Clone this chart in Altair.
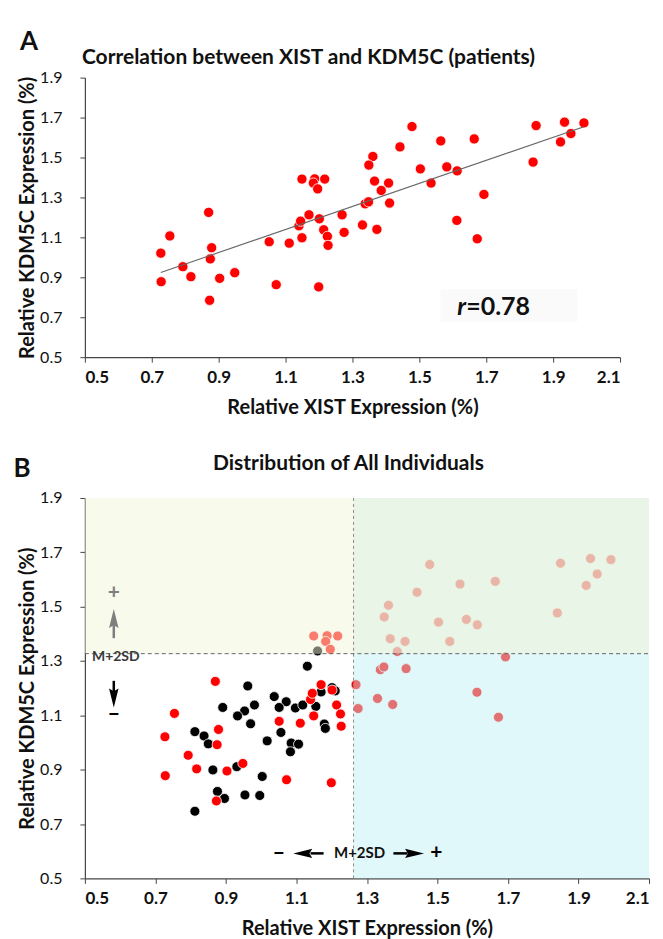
import altair as alt
import pandas as pd

FONT = "Lato"

# ---------------- data ----------------
x_ticks = [0.5, 0.7, 0.9, 1.1, 1.3, 1.5, 1.7, 1.9, 2.1]
y_ticks = [0.5, 0.7, 0.9, 1.1, 1.3, 1.5, 1.7, 1.9]

# patients (relative XIST, relative KDM5C)
pat_x = [0.727, 0.754, 0.728, 0.793, 0.817, 0.870, 0.879, 0.875, 0.903, 0.873,
         0.948, 1.051, 1.072, 1.111, 1.149, 1.140, 1.145, 1.170, 1.149, 1.187,
         1.183, 1.196, 1.217, 1.201, 1.214, 1.225, 1.227, 1.199, 1.269, 1.275,
         1.330, 1.373, 1.338, 1.348, 1.361, 1.349, 1.366, 1.386, 1.408, 1.411,
         1.478, 1.442, 1.503, 1.535, 1.564, 1.582, 1.613, 1.612, 1.664, 1.693,
         1.673, 1.849, 1.840, 1.934, 1.953, 1.922, 1.992]
pat_y = [1.021, 1.107, 0.878, 0.953, 0.903, 1.225, 1.048, 0.992, 0.895, 0.785,
         0.923, 1.078, 0.863, 1.071, 1.098, 1.158, 1.181, 1.213, 1.392, 1.393,
         1.372, 1.343, 1.392, 1.193, 1.138, 1.105, 1.060, 0.852, 1.213, 1.125,
         1.162, 1.140, 1.268, 1.278, 1.505, 1.462, 1.382, 1.335, 1.372, 1.272,
         1.655, 1.553, 1.443, 1.372, 1.583, 1.453, 1.433, 1.185, 1.593, 1.315,
         1.093, 1.660, 1.477, 1.677, 1.620, 1.578, 1.673]

# controls (panel B, black)
ctrl_x = [1.160, 1.131, 0.962, 0.891, 0.981, 0.953, 0.933, 0.970, 1.037, 1.071,
          1.051, 1.097, 1.118, 1.155, 1.170, 1.201, 1.210, 0.812, 0.838, 0.850,
          1.056, 1.017, 1.085, 1.106, 1.083, 1.179, 1.182, 0.863, 0.931, 1.003,
          0.876, 0.896, 0.954, 0.996, 0.812]
ctrl_y = [1.337, 1.281, 1.208, 1.129, 1.138, 1.116, 1.098, 1.069, 1.169, 1.150,
          1.129, 1.127, 1.138, 1.133, 1.186, 1.202, 1.190, 1.040, 1.024, 0.995,
          1.037, 1.006, 0.998, 0.994, 0.966, 1.068, 1.052, 0.899, 0.911, 0.875,
          0.820, 0.794, 0.807, 0.805, 0.747]

r_value = "=0.78"
cut_x = 1.262   # M+2SD for XIST
cut_y = 1.327   # M+2SD for KDM5C

quad_x1 = [0.5, cut_x, cut_x]
quad_x2 = [cut_x, 2.1, 2.1]
quad_y1 = [cut_y, cut_y, 0.5]
quad_y2 = [1.9, 1.9, cut_y]
quad_col = ["#f1f5d7", "#e2f2de", "#bff0f4"]
quad_op = [0.5, 0.75, 0.47]

title_a = "Correlation between XIST and KDM5C (patients)"
title_b = "Distribution of All Individuals"
XT = "Relative XIST Expression (%)"
YT = "Relative KDM5C Expression (%)"

pat = pd.DataFrame({"x": pat_x, "y": pat_y})
ctrl = pd.DataFrame({"x": ctrl_x, "y": ctrl_y})

sA_x = alt.Scale(domain=[0.5, 2.1], nice=False, zero=False)
sA_y = alt.Scale(domain=[0.5, 1.9], nice=False, zero=False)
sB_x = alt.Scale(domain=[0.5, 2.1], nice=False, zero=False)
sB_y = alt.Scale(domain=[0.5, 1.9], nice=False, zero=False)


def X(f, s):
    return alt.X(f, type="quantitative", scale=s,
                 axis=alt.Axis(values=x_ticks, format=".1f", title=XT))


def Y(f, s):
    return alt.Y(f, type="quantitative", scale=s,
                 axis=alt.Axis(values=y_ticks, format=".1f", title=YT))


def label(txt, px, py, size, weight="bold"):
    return alt.Chart(pd.DataFrame({"t": [txt]})).mark_text(
        font=FONT, fontSize=size, fontWeight=weight, align="center", baseline="middle",
        color="#111").encode(x=alt.value(px), y=alt.value(py), text="t:N")


# ---------------- panel A ----------------
a_pts = alt.Chart(pat).mark_circle(size=105, color="#ff0000", opacity=1,
                                   stroke="white", strokeWidth=0.8).encode(
    x=X("x", sA_x), y=Y("y", sA_y))
a_reg = alt.Chart(pat).transform_regression("x", "y").mark_line(
    color="#666666", strokeWidth=1.1).encode(x=X("x", sA_x), y=Y("y", sA_y))
a_box = alt.Chart(pd.DataFrame({"x1": [1.563], "x2": [1.972], "y1": [0.675], "y2": [0.84]})).mark_rect(
    color="#fafafa").encode(x=X("x1", sA_x), x2="x2", y=Y("y1", sA_y), y2="y2")
a_r = alt.Chart(pd.DataFrame({"x": [1.64], "y": [0.752], "t": ["r"]})).mark_text(
    font=FONT, fontSize=25, fontStyle="italic", fontWeight="bold", align="right", baseline="middle",
    color="#111").encode(x=X("x", sA_x), y=Y("y", sA_y), text="t:N")
a_r2 = alt.Chart(pd.DataFrame({"x": [1.64], "y": [0.752], "t": [r_value]})).mark_text(
    font=FONT, fontSize=25, fontWeight="bold", align="left", baseline="middle",
    color="#111").encode(x=X("x", sA_x), y=Y("y", sA_y), text="t:N")

panelA = alt.layer(a_pts, a_reg, a_box, a_r, a_r2,
                   label("A", -56, -36, 26),
                   label(title_a, 224, -20, 21)).properties(width=536, height=280)

# ---------------- panel B ----------------
quads = pd.DataFrame({"x1": quad_x1, "x2": quad_x2, "y1": quad_y1, "y2": quad_y2,
                      "c": quad_col, "o": quad_op})

b_ctrl = alt.Chart(ctrl).mark_circle(size=100, color="#000000", opacity=1,
                                     stroke="white", strokeWidth=0.8).encode(
    x=X("x", sB_x), y=Y("y", sB_y))
b_pat = alt.Chart(pat).mark_circle(size=100, color="#ff0000", opacity=1,
                                   stroke="white", strokeWidth=0.8).encode(
    x=X("x", sB_x), y=Y("y", sB_y))
b_quad = alt.Chart(quads).mark_rect().encode(
    x=X("x1", sB_x), x2="x2", y=Y("y1", sB_y), y2="y2",
    color=alt.Color("c:N", scale=None), opacity=alt.Opacity("o:Q", scale=None))
b_vline = alt.Chart(pd.DataFrame({"x": [cut_x], "y1": [0.5], "y2": [1.9]})).mark_rule(
    color="#8a8a8a", strokeDash=[3, 3], strokeWidth=1).encode(
    x=X("x", sB_x), y=Y("y1", sB_y), y2="y2")
b_hline = alt.Chart(pd.DataFrame({"y": [cut_y], "x1": [0.5], "x2": [2.1]})).mark_rule(
    color="#666666", strokeDash=[4, 3], strokeWidth=1).encode(
    y=Y("y", sB_y), x=X("x1", sB_x), x2="x2")

ARROW = "M0,-1L0.5,1L0,0.7L-0.5,1Z"


def txt(t, x, y, size, color, align="center"):
    return alt.Chart(pd.DataFrame({"x": [x], "y": [y], "t": [t]})).mark_text(
        font=FONT, fontSize=size, fontWeight="bold", align=align, baseline="middle", color=color).encode(
        x=X("x", sB_x), y=Y("y", sB_y), text="t:N")


def vshaft(x, y1, y2, color):
    return alt.Chart(pd.DataFrame({"x": [x], "y1": [y1], "y2": [y2]})).mark_rule(
        color=color, strokeWidth=2.5).encode(x=X("x", sB_x), y=Y("y1", sB_y), y2="y2")


def hshaft(x1, x2, y, color):
    return alt.Chart(pd.DataFrame({"x1": [x1], "x2": [x2], "y": [y]})).mark_rule(
        color=color, strokeWidth=2.5).encode(x=X("x1", sB_x), x2="x2", y=Y("y", sB_y))


def head(x, y, ang, color):
    return alt.Chart(pd.DataFrame({"x": [x], "y": [y]})).mark_point(
        shape=ARROW, filled=True, size=361, color=color, opacity=1, angle=ang).encode(
        x=X("x", sB_x), y=Y("y", sB_y))


annos = [
    txt("M+2SD", 0.52, 1.313, 14, "#3a3a3a", "left"),
    txt("+", 0.582, 1.55, 21, "#7f7f7f"),
    vshaft(0.582, 1.384, 1.44, "#7f7f7f"),
    head(0.582, 1.456, 0, "#7f7f7f"),
    vshaft(0.582, 1.227, 1.18, "#000000"),
    head(0.582, 1.164, 180, "#000000"),
    txt("–", 0.582, 1.106, 22, "#000000"),
    txt("M+2SD", 1.279, 0.592, 15, "#111111"),
    txt("–", 1.050, 0.592, 22, "#000000"),
    txt("+", 1.497, 0.592, 21, "#000000"),
    hshaft(1.14, 1.177, 0.592, "#000000"),
    head(1.118, 0.592, 270, "#000000"),
    hshaft(1.375, 1.415, 0.592, "#000000"),
    head(1.435, 0.592, 90, "#000000"),
]

panelB = alt.layer(b_ctrl, b_pat, b_quad, b_vline, b_hline, *annos,
                   label("B", -63, -29, 26),
                   label(title_b, 264, -34, 21)).properties(width=565, height=381)

chart = alt.vconcat(panelA, panelB, spacing=36).properties(
    padding={"top": 20, "left": 5, "right": 5, "bottom": 0}
).configure_view(stroke=None).configure_axis(
    grid=False, domainColor="#444", tickColor="#444", tickSize=5, domainWidth=1.2,
    labelFont=FONT, labelColor="#111",
    titleFont=FONT, titleFontSize=20, titleFontWeight="bold", titleColor="#111", zindex=1
).configure_axisY(labelPadding=18, titlePadding=2, labelFontSize=16).configure_axisX(
    labelPadding=7, titlePadding=12, labelFontSize=17, labelFontWeight="bold")

chart.save("out.html", embed_options={"renderer": "svg", "actions": False})
